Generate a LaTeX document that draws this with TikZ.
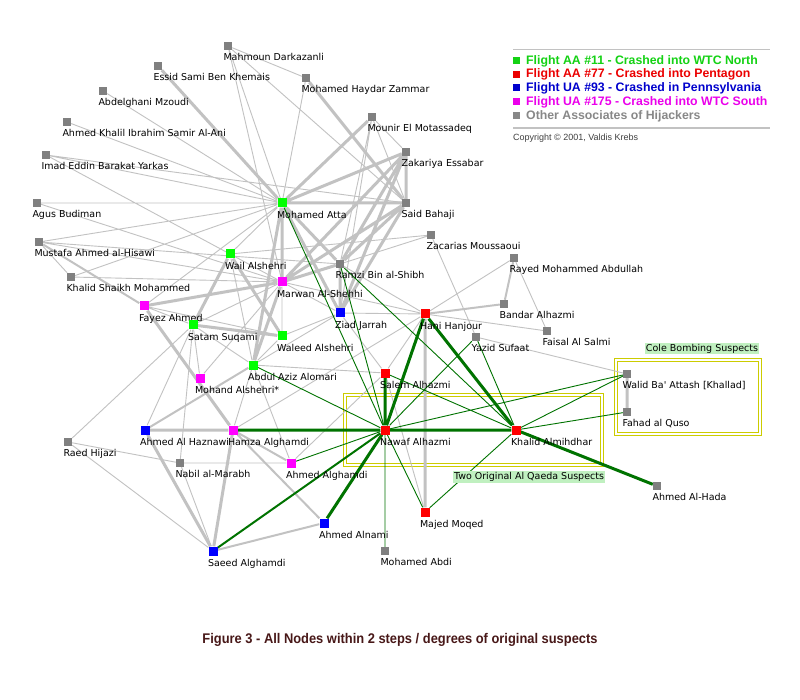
\documentclass[tikz,border=0pt]{standalone}
\usepackage{fontspec}
\newfontfamily\lblfont{DejaVu Sans}
\newfontfamily\legfont{Liberation Sans}
\pgfdeclarelayer{edges}
\pgfsetlayers{edges,main}

\definecolor{hgreen}{RGB}{0,255,0}
\definecolor{hred}{RGB}{255,0,0}
\definecolor{hblue}{RGB}{0,0,255}
\definecolor{hmagenta}{RGB}{255,0,255}
\definecolor{hgray}{RGB}{128,128,128}
\definecolor{linkgray}{RGB}{194,194,194}
\definecolor{linkgreen}{RGB}{0,115,0}
\definecolor{boxyellow}{RGB}{204,204,0}
\definecolor{tagbg}{RGB}{192,240,192}
\definecolor{captioncol}{RGB}{72,24,24}
\definecolor{leggreen}{RGB}{20,210,20}
\definecolor{legred}{RGB}{235,0,0}
\definecolor{legblue}{RGB}{0,0,205}
\definecolor{legmagenta}{RGB}{235,0,235}
\definecolor{leggray}{RGB}{136,136,136}

\tikzstyle{person}=[rectangle, minimum size=9pt, inner sep=0pt]
\tikzstyle{aa11}=[person, fill=hgreen]
\tikzstyle{aa77}=[person, fill=hred]
\tikzstyle{ua93}=[person, fill=hblue]
\tikzstyle{ua175}=[person, fill=hmagenta]
\tikzstyle{assoc}=[person, fill=hgray, minimum size=8pt]
\tikzstyle{lbl}=[font=\lblfont\fontsize{9.5}{10}\selectfont, inner sep=0pt, anchor=north west, xshift=-0.5pt, yshift=-3pt]
\tikzstyle{tie}=[linkgray, line width=0.9pt]
\tikzstyle{midtie}=[linkgray, line width=2pt]
\tikzstyle{strongtie}=[linkgray, line width=3pt]
\tikzstyle{qtie}=[linkgreen, line width=0.9pt]
\tikzstyle{strongqtie}=[linkgreen, line width=3pt]
\tikzstyle{groupbox}=[boxyellow, line width=1.2pt, double=white, double distance=1.6pt]
\tikzstyle{grouptag}=[fill=tagbg, inner sep=1pt, font=\lblfont\fontsize{9.5}{10}\selectfont]
\tikzstyle{legsq}=[rectangle, minimum size=7pt, inner sep=0pt]
\tikzstyle{legtxt}=[anchor=west, inner sep=0pt, font=\legfont\bfseries\fontsize{12.3}{13}\selectfont]
\tikzstyle{legrule}=[linkgray, line width=1.5pt]

\begin{document}
\begin{tikzpicture}[x=1pt, y=-1pt]
  \useasboundingbox (0,0) rectangle (800,700);
  % people
  \node[assoc, label={[lbl]south west:Mahmoun Darkazanli}] (mahmoun) at (228,46) {};
  \node[assoc, label={[lbl]south west:Essid Sami Ben Khemais}] (essid) at (158,66) {};
  \node[assoc, label={[lbl]south west:Mohamed Haydar Zammar}] (zammar) at (306,78) {};
  \node[assoc, label={[lbl]south west:Abdelghani Mzoudi}] (mzoudi) at (103,91) {};
  \node[assoc, label={[lbl]south west:Ahmed Khalil Ibrahim Samir Al-Ani}] (alani) at (67,122) {};
  \node[assoc, label={[lbl]south west:Mounir El Motassadeq}] (mounir) at (372,117) {};
  \node[assoc, label={[lbl]south west:Imad Eddin Barakat Yarkas}] (yarkas) at (46,155) {};
  \node[assoc, label={[lbl]south west:Zakariya Essabar}] (essabar) at (406,152) {};
  \node[assoc, label={[lbl]south west:Agus Budiman}] (budiman) at (37,203) {};
  \node[aa11, label={[lbl]south west:Mohamed Atta}] (atta) at (282,203) {};
  \node[assoc, label={[lbl]south west:Said Bahaji}] (bahaji) at (406,203) {};
  \node[assoc, label={[lbl]south west:Zacarias Moussaoui}] (moussaoui) at (431,235) {};
  \node[assoc, label={[lbl]south west:Mustafa Ahmed al-Hisawi}] (hisawi) at (39,242) {};
  \node[aa11, label={[lbl]south west:Wail Alshehri}] (wail) at (230,254) {};
  \node[assoc, label={[lbl]south west:Rayed Mohammed Abdullah}] (rayed) at (514,258) {};
  \node[assoc, label={[lbl]south west:Ramzi Bin al-Shibh}] (shibh) at (340,264) {};
  \node[assoc, label={[lbl]south west:Khalid Shaikh Mohammed}] (ksm) at (71,277) {};
  \node[ua175, label={[lbl]south west:Marwan Al-Shehhi}] (marwan) at (282,282) {};
  \node[assoc, label={[lbl]south west:Bandar Alhazmi}] (bandar) at (504,304) {};
  \node[ua175, label={[lbl]south west:Fayez Ahmed}] (fayez) at (144,306) {};
  \node[ua93, label={[lbl]south west:Ziad Jarrah}] (jarrah) at (340,313) {};
  \node[aa77, label={[lbl]south west:Hani Hanjour}] (hanjour) at (425,314) {};
  \node[aa11, label={[lbl]south west:Satam Suqami}] (satam) at (193,325) {};
  \node[assoc, label={[lbl]south west:Faisal Al Salmi}] (salmi) at (547,331) {};
  \node[aa11, label={[lbl]south west:Waleed Alshehri}] (waleed) at (282,336) {};
  \node[assoc, label={[lbl]south west:Yazid Sufaat}] (sufaat) at (476,337) {};
  \node[aa11, label={[lbl]south west:Abdul Aziz Alomari}] (alomari) at (253,365) {};
  \node[aa77, label={[lbl]south west:Salem Alhazmi}] (salem) at (385,373) {};
  \node[assoc, label={[lbl]south west:{Walid Ba' Attash [Khallad]}}] (khallad) at (627,374) {};
  \node[ua175, label={[lbl]south west:Mohand Alshehri*}] (mohand) at (200,378) {};
  \node[assoc, label={[lbl]south west:Fahad al Quso}] (quso) at (627,412) {};
  \node[ua93, label={[lbl]south west:Ahmed Al Haznawi}] (haznawi) at (145,430) {};
  \node[ua175, label={[lbl]south west:Hamza Alghamdi}] (hamza) at (233,430) {};
  \node[aa77, label={[lbl]south west:Nawaf Alhazmi}] (nawaf) at (385,430) {};
  \node[aa77, label={[lbl]south west:Khalid Almihdhar}] (almihdhar) at (516,430) {};
  \node[assoc, label={[lbl]south west:Raed Hijazi}] (hijazi) at (68,442) {};
  \node[assoc, label={[lbl]south west:Nabil al-Marabh}] (marabh) at (180,463) {};
  \node[ua175, label={[lbl]south west:Ahmed Alghamdi}] (ahmedg) at (291,463) {};
  \node[assoc, label={[lbl]south west:Ahmed Al-Hada}] (hada) at (657,486) {};
  \node[aa77, label={[lbl]south west:Majed Moqed}] (moqed) at (425,512) {};
  \node[ua93, label={[lbl]south west:Ahmed Alnami}] (alnami) at (324,523) {};
  \node[ua93, label={[lbl]south west:Saeed Alghamdi}] (saeed) at (213,551) {};
  \node[assoc, label={[lbl]south west:Mohamed Abdi}] (abdi) at (385,551) {};

  \begin{pgfonlayer}{edges}
    \fill[white] (0,0) rectangle (800,700);
    % groups
    \draw[groupbox] (345,395) rectangle (602,465);
    \draw[groupbox] (616,360) rectangle (760,434);
    % weak ties
    \draw[tie] (mahmoun) -- (zammar) (mahmoun) -- (bahaji) (mahmoun) -- (atta) (mahmoun) -- (marwan)
      (zammar) -- (atta) (mzoudi) -- (atta) (alani) -- (atta)
      (yarkas) -- (atta) (yarkas) -- (bahaji) (yarkas) -- (marwan)
      (budiman) -- (atta) (budiman) -- (marwan)
      (hisawi) -- (atta) (hisawi) -- (marwan) (hisawi) -- (ksm) (hisawi) -- (shibh)
      (ksm) -- (atta) (ksm) -- (marwan)
      (mounir) -- (essabar) (mounir) -- (bahaji) (mounir) -- (shibh) (mounir) -- (jarrah)
      (wail) -- (atta) (wail) -- (moussaoui) (wail) -- (marwan) (wail) -- (alomari)
      (fayez) -- (atta) (fayez) -- (waleed) (fayez) -- (satam)
      (satam) -- (alomari) (satam) -- (marwan)
      (marwan) -- (waleed) (marwan) -- (jarrah) (marwan) -- (hanjour)
      (shibh) -- (moussaoui) (shibh) -- (hanjour)
      (jarrah) -- (hanjour) (jarrah) -- (alomari) (jarrah) -- (salem) (jarrah) -- (waleed)
      (moussaoui) -- (sufaat)
      (hanjour) -- (rayed) (hanjour) -- (salmi) (hanjour) -- (salem) (hanjour) -- (hamza)
      (rayed) -- (salmi) (sufaat) -- (khallad)
      (alomari) -- (salem) (alomari) -- (waleed) (alomari) -- (ahmedg) (alomari) -- (hamza)
      (salem) -- (ahmedg) (salem) -- (moqed)
      (mohand) -- (satam) (mohand) -- (marwan) (haznawi) -- (satam)
      (hijazi) -- (marabh) (hijazi) -- (saeed) (hijazi) -- (satam)
      (marabh) -- (ahmedg) (marabh) -- (satam) (marabh) -- (saeed);
    \draw[midtie] (hisawi) -- (fayez) (hanjour) -- (bandar) (alomari) -- (haznawi)
      (hamza) -- (alnami) (hamza) -- (ahmedg) (saeed) -- (alnami) (rayed) -- (bandar);
    % strong ties
    \draw[strongtie] (essid) -- (atta) (zammar) -- (bahaji)
      (atta) -- (bahaji) (atta) -- (essabar) (atta) -- (mounir) (atta) -- (marwan)
      (atta) -- (jarrah) (atta) -- (alomari) (atta) -- (shibh)
      (marwan) -- (alomari) (marwan) -- (bahaji) (marwan) -- (essabar) (marwan) -- (shibh) (marwan) -- (fayez)
      (shibh) -- (bahaji) (shibh) -- (essabar) (shibh) -- (jarrah)
      (jarrah) -- (essabar) (jarrah) -- (bahaji) (essabar) -- (bahaji)
      (wail) -- (satam) (wail) -- (waleed) (satam) -- (waleed)
      (fayez) -- (hamza) (haznawi) -- (hamza) (haznawi) -- (saeed) (hamza) -- (saeed)
      (hanjour) -- (moqed) (khallad) -- (quso);
    % ties of the two original suspects
    \draw[qtie] (atta) -- (nawaf) (shibh) -- (nawaf) (shibh) -- (almihdhar) (alomari) -- (nawaf)
      (sufaat) -- (nawaf) (sufaat) -- (almihdhar) (khallad) -- (nawaf) (khallad) -- (almihdhar)
      (quso) -- (almihdhar) (salem) -- (almihdhar) (moqed) -- (nawaf) (moqed) -- (almihdhar)
      (abdi) -- (nawaf) (ahmedg) -- (nawaf);
    \draw[qtie, line width=2pt] (nawaf) -- (saeed);
    \draw[strongqtie] (nawaf) -- (almihdhar) (nawaf) -- (salem) (nawaf) -- (hanjour)
      (hanjour) -- (almihdhar) (nawaf) -- (hamza) (nawaf) -- (alnami) (almihdhar) -- (hada);
  \end{pgfonlayer}

  \node[grouptag] (qaedatag) at (529,477) {Two Original Al Qaeda Suspects};
  \node[grouptag] (coletag) at (702,348.5) {Cole Bombing Suspects};

  % legend
  \draw[legrule] (513,49.5) -- (770,49.5);
  \draw[legrule] (513,128) -- (770,128);
  \node[legsq, fill=leggreen] (k1) at (516.5,61) {};
  \node[legsq, fill=legred] (k2) at (516.5,74.5) {};
  \node[legsq, fill=legblue] (k3) at (516.5,88) {};
  \node[legsq, fill=legmagenta] (k4) at (516.5,102) {};
  \node[legsq, fill=leggray] (k5) at (516.5,116) {};
  \node[legtxt, text=leggreen] (t1) at (526,61) {Flight AA \#11 - Crashed into WTC North};
  \node[legtxt, text=legred] (t2) at (526,74.5) {Flight AA \#77 - Crashed into Pentagon};
  \node[legtxt, text=legblue] (t3) at (526,88) {Flight UA \#93 - Crashed in Pennsylvania};
  \node[legtxt, text=legmagenta] (t4) at (526,102) {Flight UA \#175 - Crashed into WTC South};
  \node[legtxt, text=leggray] (t5) at (526,116) {Other Associates of Hijackers};
  \node[anchor=west, inner sep=0pt, text=black!75, font=\legfont\fontsize{9}{10}\selectfont] (copy) at (513,138) {Copyright © 2001, Valdis Krebs};

  \node[text=captioncol, font=\legfont\bfseries\fontsize{14}{15}\selectfont] (caption) at (400,640)
    {\scalebox{0.92}[1]{Figure 3 - All Nodes within 2 steps / degrees of original suspects}};
\end{tikzpicture}
\end{document}
